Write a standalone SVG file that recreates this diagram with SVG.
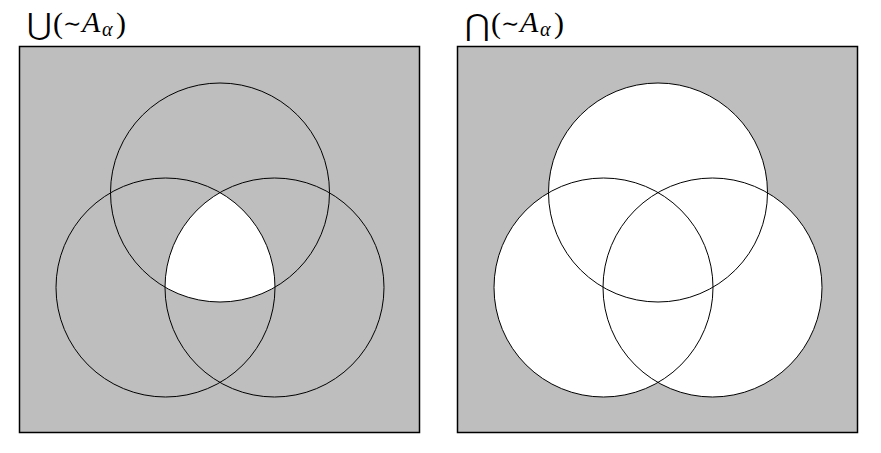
<svg xmlns="http://www.w3.org/2000/svg" width="881" height="453" viewBox="0 0 881 453">
<style>
.box{fill:#bebebe;stroke:#000;stroke-width:1.5}
.ring{fill:none;stroke:#000;stroke-width:1}
.hole{fill:#fff;stroke:none}
.title{font-family:"Liberation Serif","DejaVu Serif",serif;font-size:30px;fill:#000}
.op{font-family:"DejaVu Serif",serif;font-size:30px}
.sym{font-family:"DejaVu Serif",serif;font-size:22px}
.it{font-style:italic}
.sub{font-style:italic;font-size:20px}
</style>
<defs>
<circle id="cT" cx="220" cy="192.5" r="109.5"/>
<circle id="cL" cx="165.5" cy="287.5" r="109.5"/>
<circle id="cR" cx="274.5" cy="287.5" r="109.5"/>
<clipPath id="clipL"><use href="#cL"/></clipPath>
<clipPath id="clipR" clip-path="url(#clipL)"><use href="#cR"/></clipPath>
</defs>
<rect x="0" y="0" width="881" height="453" fill="#fff"/>
<g id="title-union">
<text class="title"><tspan class="op" x="27" y="35">⋃</tspan><tspan x="53" y="33">(</tspan><tspan class="sym" x="63" y="31">∼</tspan><tspan class="it" x="82" y="32">A</tspan><tspan class="sub" x="102" y="36">α</tspan><tspan x="116" y="33">)</tspan></text>
</g>
<g id="title-intersection">
<text class="title"><tspan class="op" x="465" y="35">⋂</tspan><tspan x="491" y="33">(</tspan><tspan class="sym" x="501" y="31">∼</tspan><tspan class="it" x="520" y="32">A</tspan><tspan class="sub" x="540" y="36">α</tspan><tspan x="554" y="33">)</tspan></text>
</g>
<g id="panel-union">
<rect class="box" x="19.5" y="46.5" width="400" height="386"/>
<g clip-path="url(#clipR)"><use href="#cT" class="hole"/></g>
<use href="#cT" class="ring"/>
<use href="#cL" class="ring"/>
<use href="#cR" class="ring"/>
</g>
<g id="panel-intersection" transform="translate(438 0)">
<rect class="box" x="19.5" y="46.5" width="400" height="386"/>
<use href="#cT" class="hole"/>
<use href="#cL" class="hole"/>
<use href="#cR" class="hole"/>
<use href="#cT" class="ring"/>
<use href="#cL" class="ring"/>
<use href="#cR" class="ring"/>
</g>
</svg>
